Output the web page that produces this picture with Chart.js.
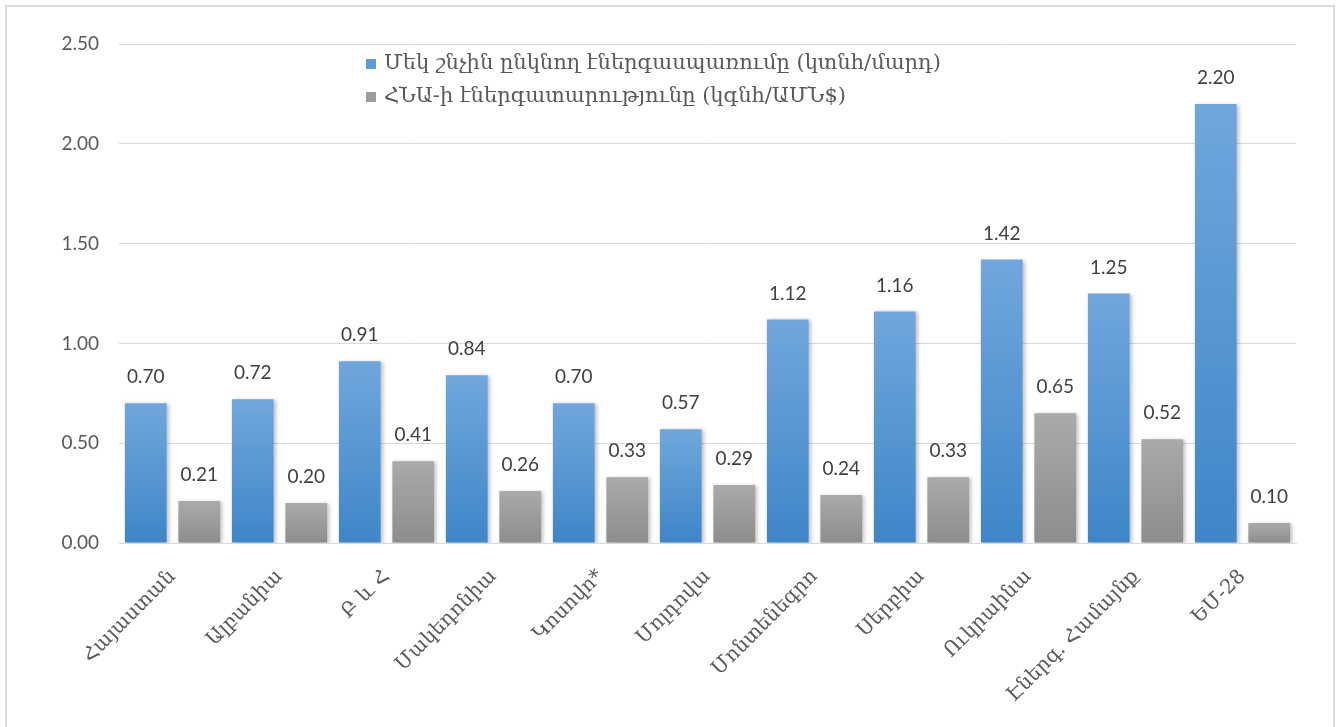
<!DOCTYPE html>
<html>
<head>
<meta charset="utf-8">
<script src="https://cdn.jsdelivr.net/npm/chart.js@4.4.0/dist/chart.umd.min.js"></script>
<style>
  body { margin: 0; background: #fff; }
  #chart { position: absolute; left: 0; top: 0; }
  #frame { position: absolute; left: 5px; top: 5px; width: 1326px; height: 740px; border: 2px solid #dcdcdc; pointer-events: none; }
</style>
</head>
<body>
<canvas id="chart" width="1336" height="727"></canvas>
<div id="frame"></div>
<script>
var countries = ['Հայաստան', 'Ալբանիա', 'Բ և Հ', 'Մակեդոնիա', 'Կոսովո*', 'Մոլդովա',
  'Մոնտենեգրո', 'Սերբիա', 'Ուկրաինա', 'Էներգ. Համայնք', 'ԵՄ-28'];
var perCapita = [0.70, 0.72, 0.91, 0.84, 0.70, 0.57, 1.12, 1.16, 1.42, 1.25, 2.20];
var intensity = [0.21, 0.20, 0.41, 0.26, 0.33, 0.29, 0.24, 0.33, 0.65, 0.52, 0.10];
var seriesNames = ['Մեկ շնչին ընկնող էներգասպառումը (կտնհ/մարդ)', 'ՀՆԱ-ի էներգատարությունը (կգնհ/ԱՄՆ$)'];
var yTicks = [0, 0.5, 1, 1.5, 2, 2.5];

var numFont = "Lato, 'Open Sans', sans-serif";
var armFont = "'DejaVu Serif', 'DejaVu Sans', serif";

// per bar gradient, lighter on top like the excel original
function barFill(top, bottom) {
  return function (ctx) {
    var chart = ctx.chart;
    var y = chart.scales.y;
    if (!chart.chartArea || !y || ctx.raw == null) return bottom;
    var y0 = y.getPixelForValue(ctx.raw);
    var y1 = y.getPixelForValue(0);
    if (!isFinite(y0) || !isFinite(y1) || y0 === y1) return bottom;
    var g = chart.ctx.createLinearGradient(0, y0, 0, y1);
    g.addColorStop(0, top);
    g.addColorStop(1, bottom);
    return g;
  };
}

var shadowPlugin = {
  id: 'shadow',
  beforeDatasetsDraw: function (chart) {
    var c = chart.ctx;
    c.save();
    c.shadowColor = 'rgba(0,0,0,0.25)';
    c.shadowBlur = 4;
    c.shadowOffsetX = 2;
    c.shadowOffsetY = 1;
  },
  afterDatasetsDraw: function (chart) {
    chart.ctx.restore();
  }
};

var valueLabels = {
  id: 'valueLabels',
  afterDatasetsDraw: function (chart) {
    var c = chart.ctx;
    c.save();
    c.font = '19px ' + numFont;
    c.fillStyle = '#404040';
    c.textAlign = 'center';
    c.textBaseline = 'middle';
    chart.data.datasets.forEach(function (ds, i) {
      chart.getDatasetMeta(i).data.forEach(function (bar, j) {
        c.fillText(ds.data[j].toFixed(2), bar.x, bar.y - 26);
      });
    });
    c.restore();
  }
};

var legendBox = {
  id: 'legendBox',
  afterDraw: function (chart) {
    var c = chart.ctx;
    var swatches = ['#5b9bd9', '#9d9d9d'];
    c.save();
    c.font = '21px ' + armFont;
    c.textBaseline = 'middle';
    chart.data.datasets.forEach(function (ds, i) {
      var cy = 64 + i * 33;
      c.fillStyle = swatches[i];
      c.fillRect(366, cy - 5, 10, 10);
      c.fillStyle = '#595959';
      c.fillText(ds.label, 384, cy);
    });
    c.restore();
  }
};

new Chart(document.getElementById('chart'), {
  type: 'bar',
  data: {
    labels: countries,
    datasets: [
      {
        label: seriesNames[0],
        data: perCapita,
        backgroundColor: barFill('#70a7dd', '#3e86c8'),
        barPercentage: 0.78,
        categoryPercentage: 1.0
      },
      {
        label: seriesNames[1],
        data: intensity,
        backgroundColor: barFill('#aaaaaa', '#8d8d8d'),
        barPercentage: 0.78,
        categoryPercentage: 1.0
      }
    ]
  },
  options: {
    responsive: false,
    animation: false,
    layout: { padding: { left: 0, right: 40, top: 44, bottom: 0 } },
    plugins: {
      legend: { display: false },
      tooltip: { enabled: false }
    },
    scales: {
      x: {
        grid: { display: false, drawTicks: false },
        border: { display: true, color: '#d9d9d9', width: 1 },
        ticks: {
          autoSkip: false,
          minRotation: 45,
          maxRotation: 45,
          padding: 22,
          color: '#595959',
          font: { family: armFont, size: 20 }
        },
        afterFit: function (scale) { scale.height = 184; }
      },
      y: {
        min: 0,
        max: 2.5,
        afterBuildTicks: function (scale) {
          scale.ticks = yTicks.map(function (v) { return { value: v }; });
        },
        grid: { color: '#d9d9d9', drawTicks: false },
        border: { display: false },
        ticks: {
          padding: 20,
          color: '#595959',
          font: { family: numFont, size: 19 },
          callback: function (v) { return v.toFixed(2); }
        },
        afterFit: function (scale) { scale.width = 119; }
      }
    }
  },
  plugins: [shadowPlugin, valueLabels, legendBox]
});
</script>
</body>
</html>
